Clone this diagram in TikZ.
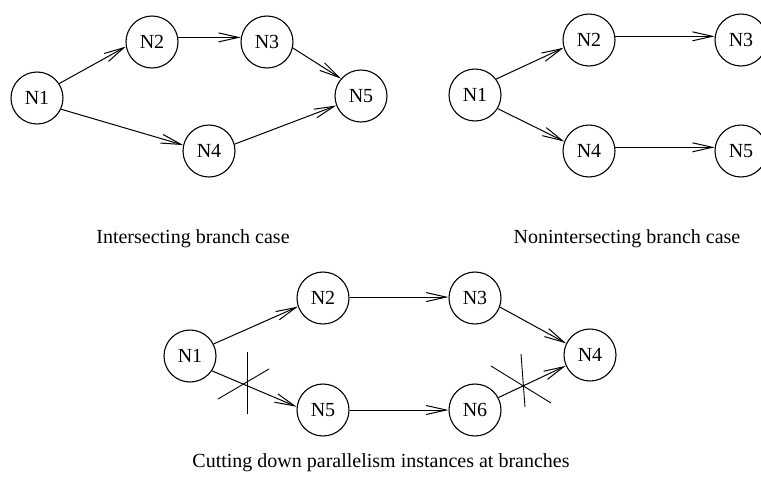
\documentclass[tikz,border=0pt]{standalone}
\usepackage{fontspec}
\setmainfont{Liberation Serif}[Ligatures=TeX]
\newfontfamily\labelfont{Liberation Serif}
\usetikzlibrary{arrows.meta}
\begin{document}
\begin{tikzpicture}[x=1pt,y=-1pt,
  state/.style={circle,draw,line width=1.1pt,minimum size=52pt,inner sep=0pt,
    font=\labelfont\fontsize{20}{24}\selectfont},
  edge/.style={line width=1pt,-{Straight Barb[length=20pt,width=9pt,line width=1pt]}},
  cut/.style={line width=0.9pt},
  caption/.style={anchor=base,font=\labelfont\fontsize{20}{24}\selectfont}]
\useasboundingbox (0,0) rectangle (761,491);

% intersecting branches
\node[state] (a1) at (37,98)  {N1};
\node[state] (a2) at (152,42) {N2};
\node[state] (a3) at (267,42) {N3};
\node[state] (a4) at (209,151) {N4};
\node[state] (a5) at (361,96) {N5};
\draw[edge] (a1.33)  -- (a2.190);
\draw[edge] (a2.10)  -- (a3.170);
\draw[edge] (a3.-13) -- (a5.139);
\draw[edge] (a1.-25) -- (a4.167);
\draw[edge] (a4.15)  -- (a5.201);
\node[caption] (capa) at (193,243) {Intersecting branch case};

% nonintersecting branches
\node[state] (b1) at (475,95)  {N1};
\node[state] (b2) at (589,40)  {N2};
\node[state] (b3) at (741,40)  {N3};
\node[state] (b4) at (589,151) {N4};
\node[state] (b5) at (741,151) {N5};
\draw[edge] (b1.37)  -- (b2.197);
\draw[edge] (b2.8)   -- (b3.172);
\draw[edge] (b1.-31) -- (b4.159);
\draw[edge] (b4.8)   -- (b5.172);
\node[caption] (capb) at (627,243) {Nonintersecting branch case};

% cutting parallelism at branches
\node[state] (c1) at (190,356) {N1};
\node[state] (c2) at (323,298) {N2};
\node[state] (c3) at (475,298) {N3};
\node[state] (c4) at (590,355) {N4};
\node[state] (c5) at (323,410) {N5};
\node[state] (c6) at (475,410) {N6};
\draw[edge] (c1.27)  -- (c2.199);
\draw[edge] (c2.2)   -- (c3.178);
\draw[edge] (c3.-20) -- (c4.154);
\draw[edge] (c1.-34) -- (c5.173);
\draw[edge] (c5.0)   -- (c6.180);
\draw[edge] (c6.28)  -- (c4.204);

% cut marks
\draw[cut] (247,352) -- (247,414);
\draw[cut] (218,399) -- (269,369);
\draw[cut] (521,354) -- (525,407);
\draw[cut] (491,366) -- (551,403);

\node[caption] (capc) at (381,467) {Cutting down parallelism instances at branches};
\end{tikzpicture}
\end{document}
